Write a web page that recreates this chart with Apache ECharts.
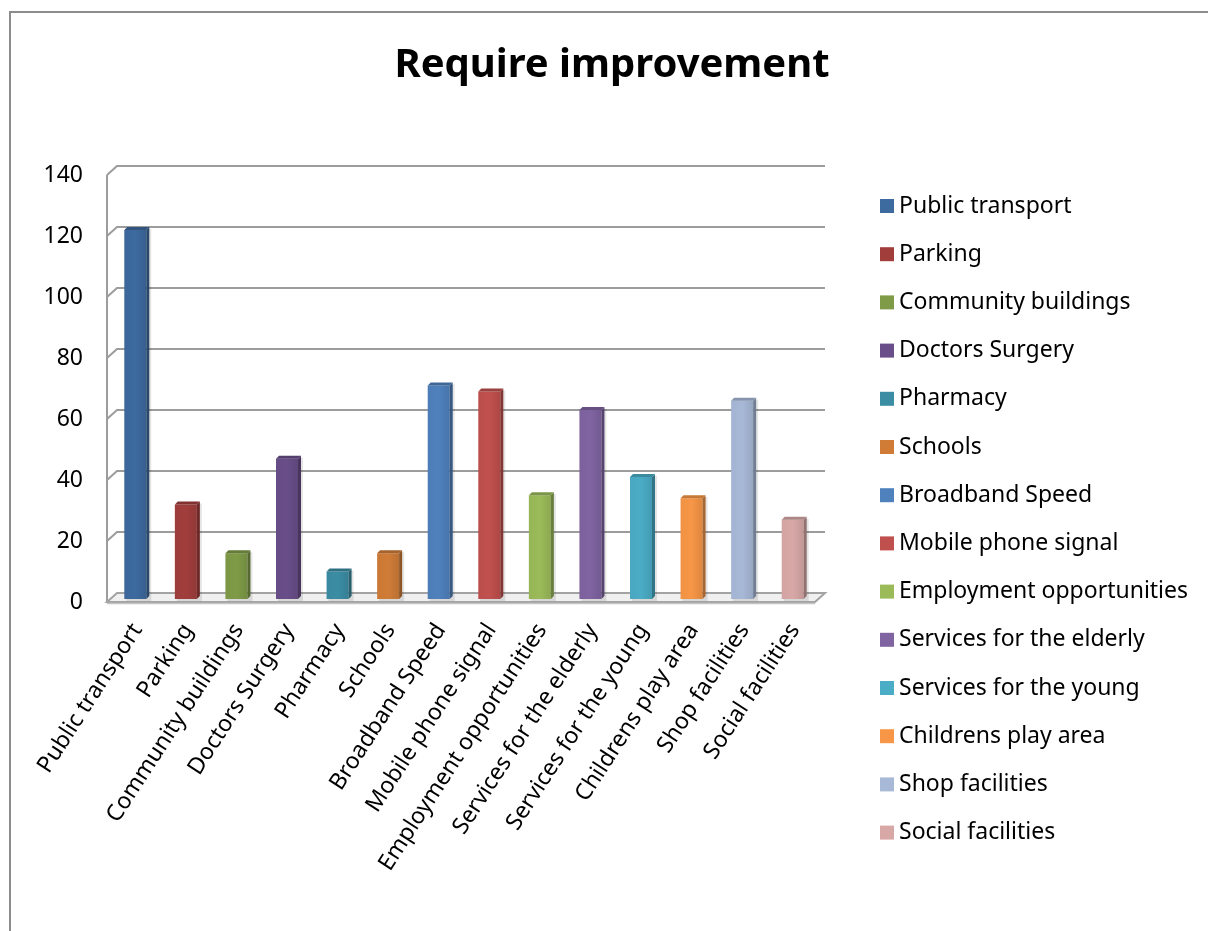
<!DOCTYPE html>
<html>
<head>
<meta charset="utf-8">
<title>Require improvement</title>
<script src="https://cdn.jsdelivr.net/npm/echarts@6/dist/echarts.min.js"></script>
<style>
  html, body { margin: 0; padding: 0; background: #ffffff; }
  #chart { width: 1208px; height: 931px; }
</style>
</head>
<body>
<div id="chart"></div>
<script>
// Survey answers: facilities that require improvement
const categories = [
  'Public transport', 'Parking', 'Community buildings', 'Doctors Surgery',
  'Pharmacy', 'Schools', 'Broadband Speed', 'Mobile phone signal',
  'Employment opportunities', 'Services for the elderly', 'Services for the young',
  'Childrens play area', 'Shop facilities', 'Social facilities'
];
const values = [121, 31, 15, 46, 9, 15, 70, 68, 34, 62, 40, 33, 65, 26];
const colors = [
  '#3D6A9F', '#A13E3C', '#7F9B47', '#694E89', '#3B8DA4', '#D07C37',
  '#4F81BD', '#C0504D', '#9BBB59', '#8064A2', '#4BACC6', '#F79646',
  '#A8B9D8', '#D8A8A7'
];
const yTicks = [0, 20, 40, 60, 80, 100, 120, 140];

const FONT = 'Noto Sans';
const WALL_DX = -10, WALL_DY = 9;   // front edge of the 3D frame relative to the back wall
const BAR_DX = -7, BAR_DY = 6;      // bars sit between the wall and the front edge
const BAR_W = 22, BAR_D = 3;        // front face width, side/top depth

function shade(hex, f) {
  const n = parseInt(hex.slice(1), 16);
  const ch = [(n >> 16) & 255, (n >> 8) & 255, n & 255].map(function (c) {
    return Math.max(0, Math.min(255, Math.round(f >= 1 ? c + (255 - c) * (f - 1) : c * f)));
  });
  return 'rgb(' + ch.join(',') + ')';
}

// 3D column: front face, darker right side, top face
function renderBar(params, api) {
  const top = api.coord([api.value(0), api.value(1)]);
  const base = api.coord([api.value(0), 0]);
  const color = api.visual('color');
  const x0 = top[0] + BAR_DX - BAR_W / 2;
  const x1 = x0 + BAR_W;
  const yt = top[1] + BAR_DY;
  const yb = base[1] + BAR_DY;
  return {
    type: 'group',
    children: [
      {
        type: 'rect',
        shape: { x: x0 + 2, y: yt - BAR_D + 2, width: BAR_W + BAR_D, height: yb - yt + BAR_D },
        style: { fill: 'rgba(0,0,0,0.10)' },
        z2: 0
      },
      {
        type: 'rect',
        shape: { x: x0, y: yt, width: BAR_W, height: yb - yt },
        style: {
          fill: {
            type: 'linear', x: 0, y: 0, x2: 1, y2: 0,
            colorStops: [
              { offset: 0, color: shade(color, 0.97) },
              { offset: 0.5, color: color },
              { offset: 1, color: shade(color, 0.9) }
            ]
          }
        },
        z2: 2
      },
      {
        type: 'polygon',
        shape: { points: [[x1, yt], [x1 + BAR_D, yt - BAR_D], [x1 + BAR_D, yb - BAR_D], [x1, yb]] },
        style: { fill: shade(color, 0.68) },
        z2: 2
      },
      {
        type: 'polygon',
        shape: { points: [[x0, yt], [x0 + BAR_D, yt - BAR_D], [x1 + BAR_D, yt - BAR_D], [x1, yt]] },
        style: { fill: shade(color, 0.8) },
        z2: 2
      }
    ]
  };
}

// Back-wall gridlines with their slanted left-wall segments, plus the floor
function renderFrame(params, api) {
  const cs = params.coordSys;
  const v = api.value(1);
  const y = api.coord([0, v])[1];
  const left = cs.x, right = cs.x + cs.width;
  if (v === 0) {
    const yTop = api.coord([0, yTicks[yTicks.length - 1]])[1];
    return {
      type: 'group',
      children: [
        {
          type: 'line',
          shape: { x1: left + WALL_DX, y1: yTop + WALL_DY, x2: left + WALL_DX, y2: y + WALL_DY },
          style: { stroke: '#9c9c9c', lineWidth: 2 }
        },
        {
          type: 'polygon',
          shape: { points: [[left + WALL_DX, y + WALL_DY], [left, y], [right, y], [right + WALL_DX, y + WALL_DY]] },
          style: { fill: '#f0f0f0', stroke: '#a3a3a3', lineWidth: 2 }
        },
        {
          type: 'line',
          shape: { x1: left + WALL_DX, y1: y + WALL_DY + 1.5, x2: right + WALL_DX, y2: y + WALL_DY + 1.5 },
          style: { stroke: '#c4c4c4', lineWidth: 1.5 }
        }
      ]
    };
  }
  return {
    type: 'polyline',
    shape: { points: [[left + WALL_DX, y + WALL_DY], [left, y], [right, y]] },
    style: { stroke: '#9c9c9c', lineWidth: 2, fill: 'none' }
  };
}

const chart = echarts.init(document.getElementById('chart'), null, { renderer: 'canvas' });

const barSeries = categories.map(function (name, i) {
  return {
    type: 'custom',
    name: name,
    xAxisIndex: 0,
    yAxisIndex: 0,
    clip: false,
    z: 3,
    itemStyle: { color: colors[i] },
    encode: { x: 0, y: 1 },
    data: [[i, values[i]]],
    renderItem: renderBar
  };
});

const option = {
  backgroundColor: '#ffffff',
  animation: false,
  textStyle: { fontFamily: FONT },
  title: {
    text: 'Require improvement',
    left: 607,
    top: 41,
    textAlign: 'center',
    textStyle: { fontFamily: FONT, fontSize: 40, fontWeight: 'bold', color: '#000000' }
  },
  graphic: [
    {
      type: 'rect',
      shape: { x: 10, y: 12, width: 1400, height: 1200 },
      style: { fill: 'none', stroke: '#8c8c8c', lineWidth: 2 },
      silent: true
    }
  ],
  legend: {
    data: categories,
    orient: 'vertical',
    left: 875,
    top: 189,
    itemWidth: 14,
    itemHeight: 14,
    itemGap: 24.2,
    icon: 'rect',
    selectedMode: false,
    textStyle: { fontFamily: FONT, fontSize: 23, lineHeight: 24, color: '#000000' }
  },
  grid: [
    { left: 117, top: 166, width: 708, height: 427 },
    { left: 112, top: 175, width: 708, height: 427 }
  ],
  xAxis: [
    {
      gridIndex: 0, type: 'category', data: categories,
      axisLine: { show: false }, axisTick: { show: false }, axisLabel: { show: false }, splitLine: { show: false }
    },
    {
      gridIndex: 1, type: 'category', data: categories,
      axisLine: { show: false }, axisTick: { show: false }, splitLine: { show: false },
      axisLabel: { interval: 0, rotate: 57, margin: 24, fontFamily: FONT, fontSize: 23, color: '#000000' }
    }
  ],
  yAxis: [
    {
      gridIndex: 0, type: 'value', min: 0, max: 140, interval: 20,
      axisLine: { show: false }, axisTick: { show: false }, axisLabel: { show: false }, splitLine: { show: false }
    },
    {
      gridIndex: 1, type: 'value', min: 0, max: 140, interval: 20,
      axisLine: { show: false }, axisTick: { show: false }, splitLine: { show: false },
      axisLabel: { margin: 29, fontFamily: FONT, fontSize: 23, color: '#000000' }
    }
  ],
  series: [
    {
      type: 'custom',
      name: 'frame',
      xAxisIndex: 0,
      yAxisIndex: 0,
      clip: false,
      silent: true,
      z: 1,
      encode: { x: 0, y: 1 },
      data: yTicks.map(function (v) { return [0, v]; }),
      renderItem: renderFrame
    }
  ].concat(barSeries)
};

chart.setOption(option);
</script>
</body>
</html>
